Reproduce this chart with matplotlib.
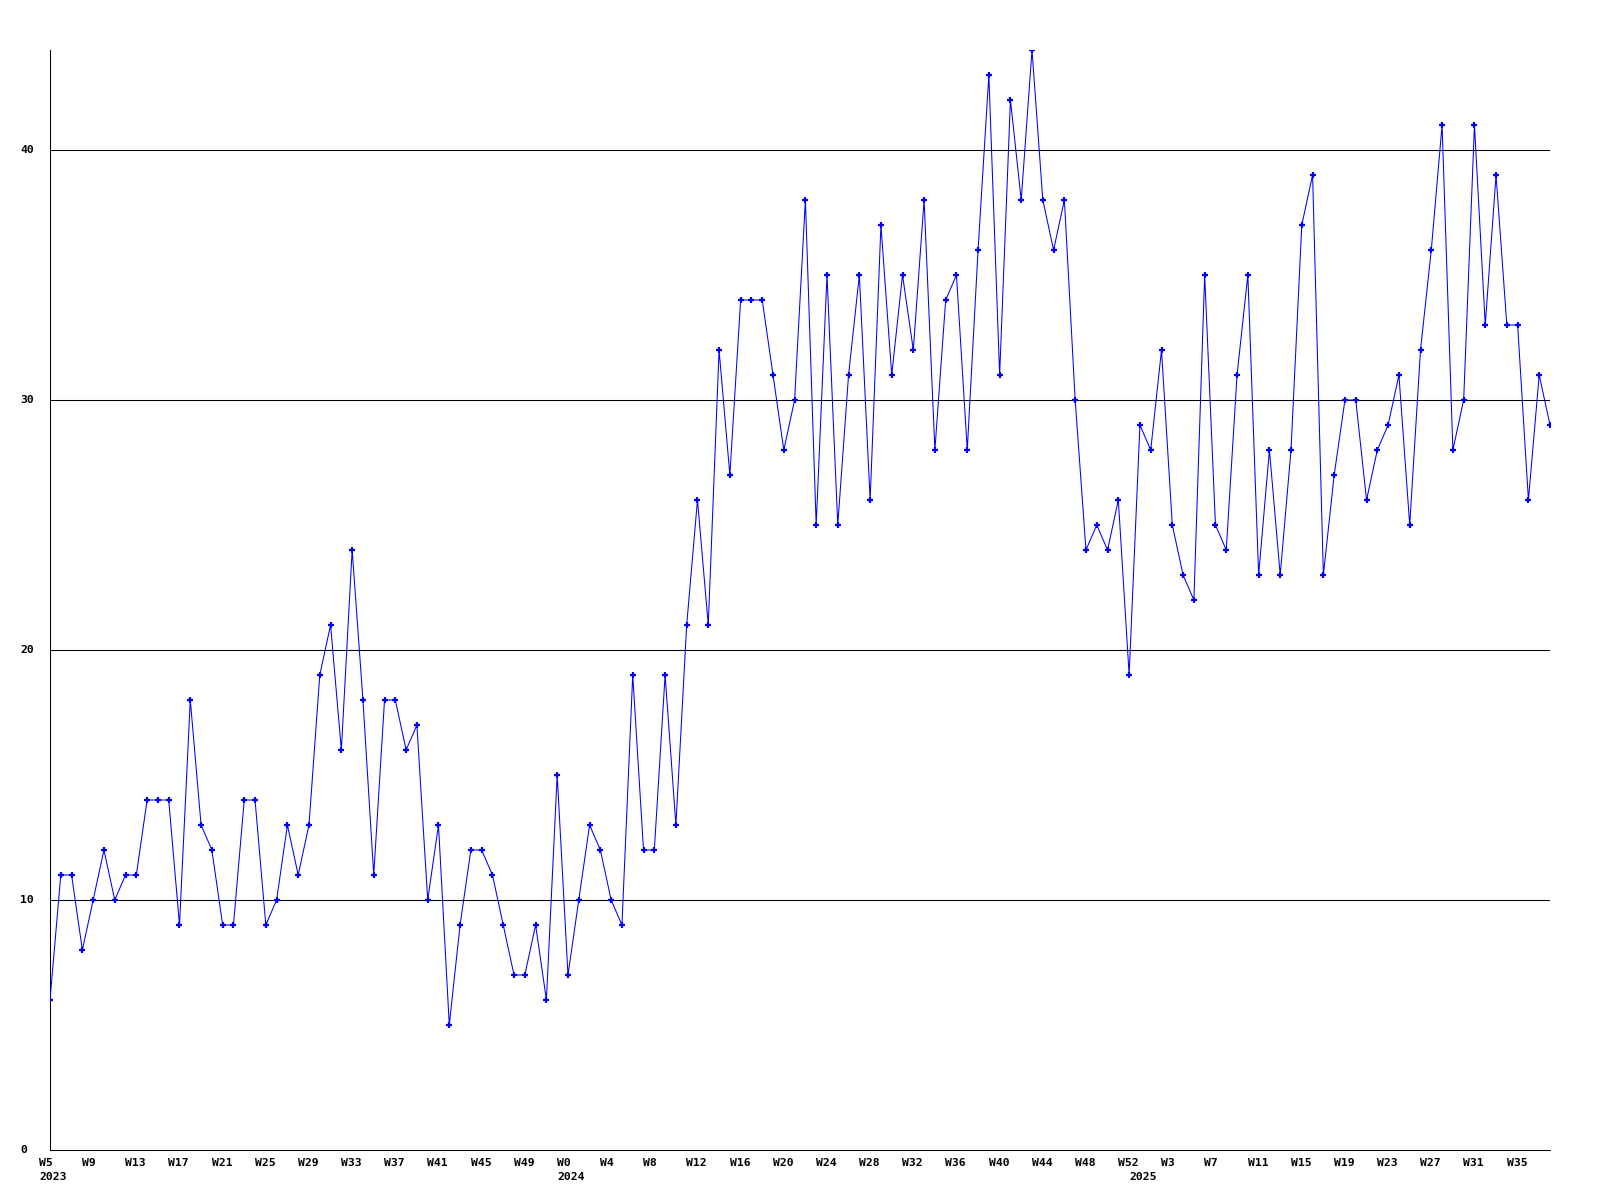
import matplotlib
matplotlib.use('Agg')
import matplotlib.pyplot as plt

# weekly counts, W5 2023 .. W38 2025
counts = [6, 11, 11, 8, 10, 12, 10, 11, 11, 14, 14, 14, 9, 18, 13, 12, 9, 9, 14, 14,
          9, 10, 13, 11, 13, 19, 21, 16, 24, 18, 11, 18, 18, 16, 17, 10, 13, 5, 9, 12,
          12, 11, 9, 7, 7, 9, 6, 15, 7, 10, 13, 12, 10, 9, 19, 12, 12, 19, 13, 21,
          26, 21, 32, 27, 34, 34, 34, 31, 28, 30, 38, 25, 35, 25, 31, 35, 26, 37, 31, 35,
          32, 38, 28, 34, 35, 28, 36, 43, 31, 42, 38, 44, 38, 36, 38, 30, 24, 25, 24, 26,
          19, 29, 28, 32, 25, 23, 22, 35, 25, 24, 31, 35, 23, 28, 23, 28, 37, 39, 23, 27,
          30, 30, 26, 28, 29, 31, 25, 32, 36, 41, 28, 30, 41, 33, 39, 33, 33, 26, 31, 29]

years = ['2023', '2024', '2025']
first_week = [5, 0, 0]
last_week = [52, 52, 38]
grid_vals = [0, 10, 20, 30, 40]

labels = []
year_idx = []
for y, a, b in zip(years, first_week, last_week):
    year_idx.append(len(labels))
    for w in range(a, b + 1):
        labels.append('W%d' % w)

x = list(range(len(counts)))
font = dict(family='DejaVu Sans Mono', weight='bold', size=8.2)

fig = plt.figure(figsize=(16, 12), dpi=100)
ax = fig.add_axes([50/1600, 1 - 1150/1200, 1500/1600, 1100/1200])

for g in grid_vals[1:]:
    ax.axhline(g, color='black', lw=0.75, zorder=1)

ax.plot(x, counts, color='#0000ff', lw=0.75, marker='+', ms=5, mew=1.6, zorder=3)

ax.set_xlim(0, len(counts) - 1)
ax.set_ylim(0, max(counts))
ax.set_xticks([])
ax.set_yticks([])

for s in ['top', 'right']:
    ax.spines[s].set_visible(False)
for s in ['left', 'bottom']:
    ax.spines[s].set_color('black')
    ax.spines[s].set_linewidth(0.75)

# y labels, left aligned near the figure edge
for g in grid_vals:
    ax.annotate(str(g), xy=(20, g), xycoords=('figure pixels', 'data'),
                ha='left', va='center', annotation_clip=False, **font)

# week labels every 4 weeks, year under the first week of each year
for i in x[::4]:
    ax.annotate(labels[i], xy=(i, 0), xycoords=('data', 'axes fraction'),
                xytext=(-11, -13), textcoords='offset pixels',
                ha='left', va='center', annotation_clip=False, **font)
for y, i in zip(years, year_idx):
    ax.annotate(y, xy=(i, 0), xycoords=('data', 'axes fraction'),
                xytext=(-11, -27), textcoords='offset pixels',
                ha='left', va='center', annotation_clip=False, **font)

fig.savefig('out.png')
